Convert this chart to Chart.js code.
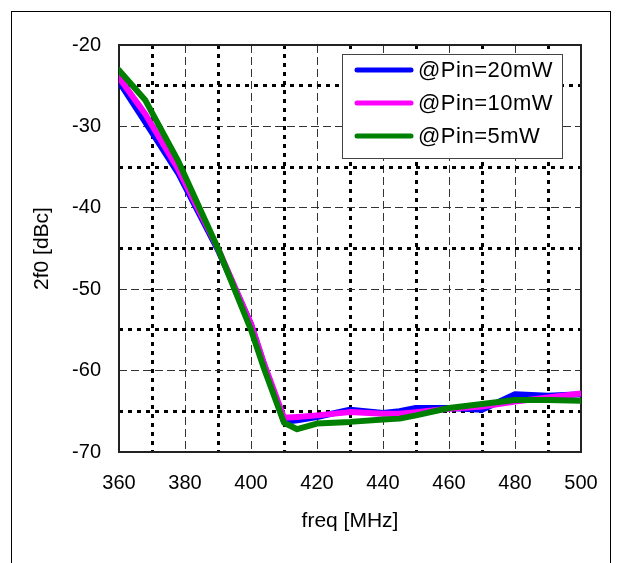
<!DOCTYPE html>
<html>
<head>
<meta charset="utf-8">
<script src="https://cdn.jsdelivr.net/npm/chart.js@4/dist/chart.umd.min.js"></script>
<style>
html,body{margin:0;padding:0;background:#fff;overflow:hidden;}
#wrap{position:relative;width:617px;height:563px;}
#frame{position:absolute;left:11px;top:11px;width:600px;height:600px;border:1px solid #000;box-sizing:border-box;pointer-events:none;}
canvas{position:absolute;left:0;top:0;}
</style>
</head>
<body>
<div id="wrap">
<canvas id="c" width="617" height="563"></canvas>
<div id="frame"></div>
</div>
<script>
const freq = [360, 368, 378, 390, 400, 404, 410, 414, 420, 430, 440, 445, 450, 460, 470, 480, 490, 500];
const pin20mW = [-24.5, -29.5, -35.8, -45.2, -54.3, -59.3, -66.3, -66.1, -65.7, -64.8, -65.2, -65.0, -64.6, -64.6, -64.8, -62.9, -63.1, -62.9];
const pin10mW = [-24.0, -28.5, -35.3, -45.0, -54.3, -59.2, -65.8, -65.7, -65.5, -65.1, -65.3, -65.3, -65.1, -64.7, -64.4, -63.8, -63.3, -62.8];
const pin5mW  = [-23.1, -26.8, -34.3, -45.0, -55.0, -59.8, -66.4, -67.2, -66.5, -66.3, -66.0, -65.9, -65.5, -64.6, -64.1, -63.6, -63.6, -63.7];
const seriesLabels = ['@Pin=20mW', '@Pin=10mW', '@Pin=5mW'];
const seriesColors = ['#0000FF', '#FF00FF', '#008000'];
const xTicks = [360, 380, 400, 420, 440, 460, 480, 500];
const yTicks = [-70, -60, -50, -40, -30, -20];

const pts = arr => freq.map((f, i) => ({x: f, y: arr[i]}));
const FONT = 'Liberation Sans, Arial, sans-serif';

const legendPlugin = {
  id: 'boxLegend',
  afterDraw(chart) {
    const {ctx, chartArea} = chart;
    const left = chartArea.right - 239, top = chartArea.top + 9, w = 220, h = 104;
    ctx.save();
    ctx.fillStyle = '#fff';
    ctx.fillRect(left, top, w, h);
    ctx.strokeStyle = '#444';
    ctx.lineWidth = 1;
    ctx.strokeRect(left + 0.5, top + 0.5, w, h);
    ctx.font = '22px ' + FONT;
    if ('letterSpacing' in ctx) ctx.letterSpacing = '0.5px';
    ctx.textBaseline = 'middle';
    ctx.fillStyle = '#000';
    chart.data.datasets.forEach((ds, i) => {
      const y = top + 16 + i * 33;
      ctx.strokeStyle = ds.borderColor;
      ctx.lineWidth = 5;
      ctx.lineCap = 'round';
      ctx.beginPath();
      ctx.moveTo(left + 15, y);
      ctx.lineTo(left + 69, y);
      ctx.stroke();
      ctx.fillText(ds.label, left + 76, y + 1);
    });
    ctx.restore();
  }
};

const framePlugin = {
  id: 'plotFrame',
  beforeDatasetsDraw(chart) {
    const {ctx, chartArea: a} = chart;
    ctx.save();
    ctx.strokeStyle = '#222';
    ctx.lineWidth = 2;
    ctx.strokeRect(a.left, a.top, a.right - a.left, a.bottom - a.top);
    ctx.restore();
  }
};

function gridOpts(majorStep, min, max) {
  return {
    drawTicks: false,
    color: c => {
      const v = c.tick ? c.tick.value : null;
      if (v === null || v === min || v === max) return 'rgba(0,0,0,0)';
      return (Math.abs(v) % majorStep === 0) ? '#333' : '#000';
    },
    lineWidth: c => {
      const v = c.tick ? c.tick.value : 0;
      return (Math.abs(v) % majorStep === 0) ? 1 : 3;
    }
  };
}
function borderOpts(majorStep) {
  return {
    display: false,
    dash: c => {
      if (!c.tick) return [];
      return (Math.abs(c.tick.value) % majorStep === 0) ? [8, 4] : [4, 5];
    }
  };
}

new Chart(document.getElementById('c'), {
  type: 'line',
  data: {
    datasets: [
      {label: seriesLabels[0], data: pts(pin20mW), borderColor: seriesColors[0], backgroundColor: seriesColors[0], order: 3},
      {label: seriesLabels[1], data: pts(pin10mW), borderColor: seriesColors[1], backgroundColor: seriesColors[1], order: 2},
      {label: seriesLabels[2], data: pts(pin5mW), borderColor: seriesColors[2], backgroundColor: seriesColors[2], order: 1}
    ].map(d => Object.assign(d, {borderWidth: 6, pointRadius: 0, tension: 0, fill: false, borderJoinStyle: 'round', borderCapStyle: 'round'}))
  },
  options: {
    responsive: false,
    animation: false,
    devicePixelRatio: 1,
    layout: {padding: {left: 0, top: 45, right: 36, bottom: 0}},
    plugins: {legend: {display: false}, tooltip: {enabled: false}},
    scales: {
      x: {
        type: 'linear',
        min: 360, max: 500,
        afterFit: s => { s.height = 111; },
        afterBuildTicks: s => {
          const t = [];
          for (let v = 360; v <= 500; v += 10) t.push({value: v});
          s.ticks = t;
        },
        ticks: {
          padding: 19,
          color: '#000',
          font: {family: FONT, size: 20},
          callback: v => xTicks.includes(v) ? String(v) : '',
          maxRotation: 0, autoSkip: false
        },
        grid: gridOpts(20, 360, 500),
        border: borderOpts(20),
        title: {display: true, text: 'freq [MHz]', color: '#000', font: {family: FONT, size: 21}, padding: {top: 0, bottom: 29}}
      },
      y: {
        type: 'linear',
        min: -70, max: -20,
        afterFit: s => { s.width = 119; },
        afterBuildTicks: s => {
          const t = [];
          for (let v = -70; v <= -20; v += 5) t.push({value: v});
          s.ticks = t;
        },
        ticks: {
          padding: 18,
          color: '#000',
          font: {family: FONT, size: 20},
          callback: v => yTicks.includes(v) ? String(v) : '',
          autoSkip: false
        },
        grid: gridOpts(10, -70, -20),
        border: borderOpts(10),
        title: {display: true, text: '2f0 [dBc]', color: '#000', font: {family: FONT, size: 21}, padding: {top: 30, bottom: 0}}
      }
    }
  },
  plugins: [framePlugin, legendPlugin]
});
</script>
</body>
</html>
